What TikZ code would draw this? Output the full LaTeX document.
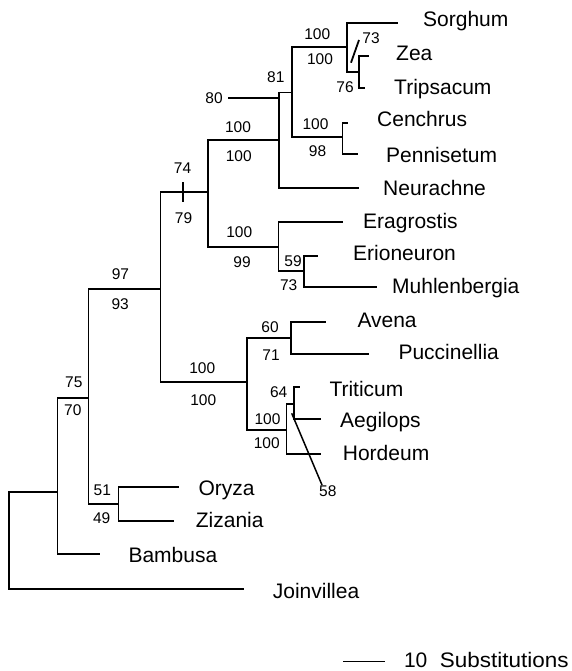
\documentclass[tikz,border=0pt]{standalone}
\usepackage{fontspec}
\setmainfont{Liberation Sans}
\begin{document}
\begin{tikzpicture}[x=1pt,y=-1pt,
  br/.style={line width=1.3pt, line cap=rect},
  taxon/.style={anchor=west, inner sep=0pt, text height=14.5pt, text depth=0pt, font=\fontsize{21}{21}\selectfont},
  num/.style={inner sep=0pt, text height=11pt, text depth=0pt, font=\fontsize{15.5}{15.5}\selectfont},
  marker/.style={line width=2.6pt},
  slash/.style={line width=1.8pt},
  pointer/.style={line width=1.5pt}]
\useasboundingbox (0,0) rectangle (572,671);
% internal nodes (x, stem y)
\coordinate (R) at (9,540);
\coordinate (O) at (57.5,492);
\coordinate (M) at (88.5,398);
\coordinate (N) at (118.5,504);
\coordinate (H) at (160.5,289);
\coordinate (E) at (208,192);
\coordinate (I) at (247,382);
\coordinate (C) at (279,140);
\coordinate (F) at (278.3,247);
\coordinate (B) at (292,92.5);
\coordinate (A) at (347,47);
\coordinate (ZT) at (359,72);
\coordinate (CP) at (342.5,137);
\coordinate (G) at (304,271);
\coordinate (J) at (291,338);
\coordinate (K) at (286.5,430);
\coordinate (L) at (294,404);
% tips
\coordinate (tSor) at (397.7,23);
\coordinate (tZea) at (368.3,56);
\coordinate (tTri) at (364,88);
\coordinate (tCen) at (347,123);
\coordinate (tPen) at (357.5,154);
\coordinate (tNeu) at (358.3,188);
\coordinate (tEra) at (342.7,222);
\coordinate (tEri) at (317.7,256);
\coordinate (tMuh) at (376,287);
\coordinate (tAve) at (325.7,322);
\coordinate (tPuc) at (368.3,354);
\coordinate (tTrt) at (299,387);
\coordinate (tAeg) at (320.7,419);
\coordinate (tHor) at (320.7,454);
\coordinate (tOry) at (178,487);
\coordinate (tZiz) at (173,521);
\coordinate (tBam) at (99,554);
\coordinate (tJoi) at (243,589);
% branches
\draw[br] (R) |- (O);  \draw[br] (R) |- (tJoi);
\draw[br] (O) |- (M);  \draw[br] (O) |- (tBam);
\draw[br] (M) |- (N);  \draw[br] (M) |- (H);
\draw[br] (N) |- (tOry); \draw[br] (N) |- (tZiz);
\draw[br] (H) |- (E);  \draw[br] (H) |- (I);
\draw[br] (E) |- (C);  \draw[br] (E) |- (F);
\draw[br] (C) |- (B);  \draw[br] (C) |- (tNeu);
\draw[br] (B) |- (A);  \draw[br] (B) |- (CP);
\draw[br] (A) |- (tSor); \draw[br] (A) |- (ZT);
\draw[br] (ZT) |- (tZea); \draw[br] (ZT) |- (tTri);
\draw[br] (CP) |- (tCen); \draw[br] (CP) |- (tPen);
\draw[br] (F) |- (tEra); \draw[br] (F) |- (G);
\draw[br] (G) |- (tEri); \draw[br] (G) |- (tMuh);
\draw[br] (I) |- (J);  \draw[br] (I) |- (K);
\draw[br] (J) |- (tAve); \draw[br] (J) |- (tPuc);
\draw[br] (K) |- (L);  \draw[br] (K) |- (tHor);
\draw[br] (L) |- (tTrt); \draw[br] (L) |- (tAeg);
% extra marks
\coordinate (p80) at (228.3,98);
\draw[pointer] (p80) -- (C |- p80);
\coordinate (m74a) at (183,182.3); \coordinate (m74b) at (183,201.7);
\draw[marker] (m74a) -- (m74b);
\coordinate (s73a) at (351,62.7); \coordinate (s73b) at (359,40);
\draw[slash] (s73a) -- (s73b);
\coordinate (d58a) at (291.7,413.3); \coordinate (d58b) at (322,485);
\draw[pointer] (d58a) -- (d58b);
% taxon labels
\node[taxon] (Sorghum) at (423,19.7) {Sorghum};
\node[taxon] (Zea) at (396,53.7) {Zea};
\node[taxon] (Tripsacum) at (394,87) {Tripsacum};
\node[taxon] (Cenchrus) at (377,119.7) {Cenchrus};
\node[taxon] (Pennisetum) at (386,155) {Pennisetum};
\node[taxon] (Neurachne) at (383,188.3) {Neurachne};
\node[taxon] (Eragrostis) at (363,221) {Eragrostis};
\node[taxon] (Erioneuron) at (353,252.8) {Erioneuron};
\node[taxon] (Muhlenbergia) at (392,286.7) {Muhlenbergia};
\node[taxon] (Avena) at (357.3,320.3) {Avena};
\node[taxon] (Puccinellia) at (398.3,352.5) {Puccinellia};
\node[taxon] (Triticum) at (329.3,389) {Triticum};
\node[taxon] (Aegilops) at (340,420.5) {Aegilops};
\node[taxon] (Hordeum) at (342.7,453) {Hordeum};
\node[taxon] (Oryza) at (198.3,487.8) {Oryza};
\node[taxon] (Zizania) at (195.7,520.5) {Zizania};
\node[taxon] (Bambusa) at (128.3,555.3) {Bambusa};
\node[taxon] (Joinvillea) at (272.7,591) {Joinvillea};
% scale bar
\coordinate (sb1) at (343.3,661.7); \coordinate (sb2) at (385,661.7);
\draw[line width=1.2pt] (sb1) -- (sb2);
\node[taxon] (scale) at (403.8,660.3) {10\hspace{12.5pt}\scalebox{1.07}[1]{Substitutions}};
% support values
\node[num] (n1) at (317.3,33.8) {100};
\node[num] (n2) at (320,58.8) {100};
\node[num] (n3) at (371,37.8) {73};
\node[num] (n4) at (345,87.2) {76};
\node[num] (n5) at (275.8,77.2) {81};
\node[num] (n6) at (214,98.3) {80};
\node[num] (n7) at (315.5,123.8) {100};
\node[num] (n8) at (317.5,151.2) {98};
\node[num] (n9) at (238,127.2) {100};
\node[num] (n10) at (238.8,155.8) {100};
\node[num] (n11) at (182.5,168.3) {74};
\node[num] (n12) at (183.5,218.2) {79};
\node[num] (n13) at (239.3,231.8) {100};
\node[num] (n14) at (242,261.5) {99};
\node[num] (n15) at (293,260.5) {59};
\node[num] (n16) at (288.7,285) {73};
\node[num] (n17) at (120.5,274.2) {97};
\node[num] (n18) at (120.2,303.5) {93};
\node[num] (n19) at (270,326.5) {60};
\node[num] (n20) at (271,354.5) {71};
\node[num] (n21) at (202.2,368.3) {100};
\node[num] (n22) at (203.3,399.5) {100};
\node[num] (n23) at (278.7,391.7) {64};
\node[num] (n24) at (267.5,419.2) {100};
\node[num] (n25) at (266.7,443.2) {100};
\node[num] (n26) at (327.8,490.8) {58};
\node[num] (n27) at (73.8,382.2) {75};
\node[num] (n28) at (72.8,410) {70};
\node[num] (n29) at (102.3,489.8) {51};
\node[num] (n30) at (101.7,517.5) {49};
\end{tikzpicture}
\end{document}
